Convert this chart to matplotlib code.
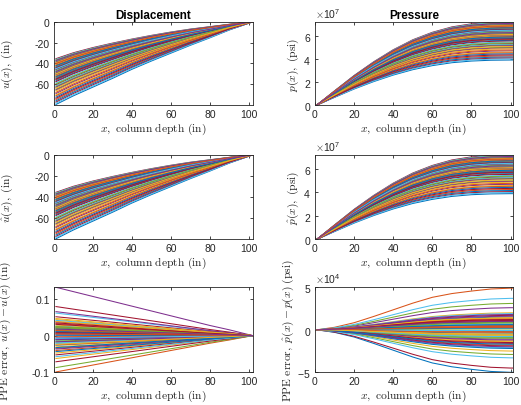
import matplotlib
matplotlib.use("Agg")
import matplotlib.pyplot as plt
import numpy as np
from matplotlib.ticker import ScalarFormatter

# ---------------- data ----------------
depth_u = [1, 10, 20, 30, 40, 50, 60, 70, 80, 90, 100, 102]
# normalised displacement profiles (|u(x)|/|u(1)|) for the top (least) and bottom (largest) curves
u_shape_top = [1.0, 0.84, 0.70, 0.58, 0.47, 0.37, 0.28, 0.20, 0.135, 0.07, 0.013, 0.0]
u_shape_bottom = [1.0, 0.895, 0.79, 0.685, 0.575, 0.475, 0.38, 0.285, 0.195, 0.10, 0.018, 0.0]
# straight-line profile of the displacement error
err_u_shape = [1.0, 0.91, 0.81, 0.71, 0.61, 0.51, 0.41, 0.31, 0.21, 0.12, 0.02, 0.0]

depth_p = [1, 10, 20, 30, 40, 50, 60, 70, 80, 90, 100, 101]
p_shape = [0.0, 0.17, 0.355, 0.52, 0.665, 0.785, 0.875, 0.94, 0.977, 0.995, 1.0, 1.0]
err_p_shape = [0.0, 0.06, 0.17, 0.32, 0.48, 0.64, 0.78, 0.87, 0.93, 0.98, 1.0, 1.0]

# per-curve values, in plotting order
u_top_depth = [-79.5, -55.9, -42.9, -69.0, -50.7, -37.9, -60.6, -45.6, -74.8, -53.5,
               -40.6, -64.8, -48.4, -35.5, -56.8, -43.4, -70.3, -51.3, -38.4, -61.5,
               -46.2, -76.0, -54.1, -41.2, -65.6, -49.0, -36.2, -57.6, -44.0, -71.2,
               -51.8, -39.0, -62.3, -46.8, -77.2, -54.7, -41.8, -66.5, -49.6, -36.8,
               -58.9, -44.5, -72.5, -52.4, -39.5, -63.0, -47.3, -78.3, -55.3, -42.3,
               -67.9, -50.1, -37.3, -59.8, -45.1, -73.6, -53.0, -40.1, -63.9, -47.9]
p_bottom_e7 = [3.90, 5.67, 6.65, 4.69, 6.06, 7.02, 5.32, 6.44, 4.25, 5.85,
               6.82, 5.00, 6.23, 7.20, 5.60, 6.61, 4.59, 6.02, 6.98, 5.25,
               6.40, 4.16, 5.81, 6.77, 4.94, 6.19, 7.15, 5.54, 6.56, 4.52,
               5.98, 6.94, 5.19, 6.35, 4.07, 5.76, 6.73, 4.87, 6.14, 7.10,
               5.45, 6.53, 4.43, 5.93, 6.90, 5.14, 6.32, 3.99, 5.72, 6.69,
               4.77, 6.11, 7.07, 5.38, 6.48, 4.34, 5.89, 6.86, 5.07, 6.27]
err_u_top = [0.012, -0.100, -0.063, 0.133, -0.088, 0.062, 0.080, 0.021, -0.035, 0.004,
             0.066, -0.018, 0.027, -0.072, 0.009, -0.041, 0.044, -0.006, 0.015, -0.027,
             0.052, -0.012, 0.033, -0.048, 0.002, 0.019, -0.022, 0.038, -0.009, 0.024,
             -0.031, 0.006, -0.015, 0.042, -0.053, 0.011, -0.003, 0.029, -0.037, 0.017,
             -0.020, 0.035, 0.001, -0.026, 0.047, -0.011, 0.022, -0.058, 0.008, -0.033,
             0.014, 0.039, -0.017, 0.025, -0.007, 0.031, -0.044, 0.005, -0.024, 0.018]
err_p_bottom_e4 = [-5.0, 4.9, 2.0, 2.6, 3.1, 3.7, -4.5, 1.5, -1.8, -2.5,
                   0.9, -2.9, -3.3, 1.7, -0.4, 1.2, -1.3, 0.3, -0.8, 1.9,
                   -1.6, 0.6, -0.2, 1.4, -1.1, 0.1, -2.1, 1.0, -0.6, 0.4,
                   -1.4, 1.6, -0.9, 0.7, -1.9, 0.2, 1.3, -0.5, -1.2, 0.8,
                   -0.1, 1.1, -2.2, 0.5, -0.7, 1.8, -1.0, 0.0, -1.5, 0.6,
                   -0.3, 1.4, -2.0, 0.9, -0.8, 1.2, -1.7, 0.3, -0.6, 1.0]

colors = ['#0072BD', '#D95319', '#EDB120', '#7E2F8E', '#77AC30', '#4DBEEE', '#A2142F']

# ---------------- style ----------------
plt.rcParams['font.family'] = ['Liberation Sans', 'DejaVu Sans']
plt.rcParams['mathtext.fontset'] = 'cm'
plt.rcParams['axes.unicode_minus'] = False
TXT = '#262626'
TICK_FS = 7.5
LAB_FS = 8.3

fig = plt.figure(figsize=(5.21, 4.06), dpi=100)

W, H = 521.0, 406.0
def axes_px(x0, x1, y0, y1):
    return fig.add_axes([x0 / W, (H - y1) / H, (x1 - x0) / W, (y1 - y0) / H])

rows = [(22.7, 106.0), (155.7, 240.3), (288.3, 373.3)]
axL = [axes_px(54.0, 252.7, r0, r1) for r0, r1 in rows]
axR = [axes_px(315.0, 512.5, r0, r1) for r0, r1 in rows]

du = np.array(depth_u, float)
dp = np.array(depth_p, float)
s_top = np.array(u_shape_top)
s_bot = np.array(u_shape_bottom)
e_u = np.array(err_u_shape)
s_p = np.array(p_shape)
e_p = np.array(err_p_shape)
amin, amax = 35.5, 79.5

LW = 0.75
for i in range(len(u_top_depth)):
    c = colors[i % 7]
    a = -u_top_depth[i]
    w = (a - amin) / (amax - amin)
    u = -a * ((1 - w) * s_top + w * s_bot)
    du_err = err_u_top[i] * e_u
    p = p_bottom_e7[i] * 1e7 * s_p
    dp_err = err_p_bottom_e4[i] * 1e4 * e_p
    axL[0].plot(du, u, color=c, lw=LW)
    axL[1].plot(du, u + du_err, color=c, lw=LW)
    axL[2].plot(du, du_err, color=c, lw=LW)
    axR[0].plot(dp, p, color=c, lw=LW)
    axR[1].plot(dp, p + dp_err, color=c, lw=LW)
    axR[2].plot(dp, dp_err, color=c, lw=LW)

xlab = r'$x\mathrm{,\ column\ depth\ (in)}$'
for ax in axL + axR:
    ax.tick_params(direction='in', length=2.5, width=0.6, top=True, right=True,
                   labelsize=TICK_FS, colors=TXT, pad=3)
    for s in ax.spines.values():
        s.set_linewidth(0.6)
        s.set_color(TXT)
    ax.set_xticks([0, 20, 40, 60, 80, 100])
    ax.set_xlabel(xlab, fontsize=LAB_FS, color=TXT, labelpad=1)

for ax in axL:
    ax.set_xlim(0, 102)
for ax in axR:
    ax.set_xlim(0, 101)

# displacement
for ax in axL[:2]:
    ax.set_ylim(-80, 0)
    ax.set_yticks([-60, -40, -20, 0])
axL[0].set_ylabel(r'$u(x)\mathrm{,\ (in)}$', fontsize=LAB_FS, color=TXT)
axL[1].set_ylabel(r'$\hat{u}(x)\mathrm{,\ (in)}$', fontsize=LAB_FS, color=TXT)
axL[2].set_ylim(-0.101, 0.133)
axL[2].set_yticks([-0.1, 0, 0.1], labels=['-0.1', '0', '0.1'])
axL[2].set_ylabel(r'$\mathrm{PPE\ error,}\ \hat{u}(x)-u(x)\ \mathrm{(in)}$', fontsize=LAB_FS, color=TXT)
for ax in axL[:2]:
    ax.yaxis.set_label_coords(-0.198, 0.5)
axL[2].yaxis.set_label_coords(-0.207, 0.5)

# pressure
for ax in axR[:2]:
    ax.set_ylim(0, 7.22e7)
    ax.set_yticks([0, 2e7, 4e7, 6e7])
axR[2].set_ylim(-5e4, 5e4)
axR[2].set_yticks([-5e4, 0, 5e4])
for ax in axR:
    fmt = ScalarFormatter(useMathText=True)
    fmt.set_powerlimits((0, 0))
    ax.yaxis.set_major_formatter(fmt)
    ax.yaxis.get_offset_text().set_fontsize(TICK_FS)
    ax.yaxis.get_offset_text().set_color(TXT)
axR[0].set_ylabel(r'$p(x)\mathrm{,\ (psi)}$', fontsize=LAB_FS, color=TXT)
axR[1].set_ylabel(r'$\hat{p}(x)\mathrm{,\ (psi)}$', fontsize=LAB_FS, color=TXT)
axR[2].set_ylabel(r'$\mathrm{PPE\ error,}\ \hat{p}(x)-p(x)\ \mathrm{(psi)}$', fontsize=LAB_FS, color=TXT)
for ax in axR[:2]:
    ax.yaxis.set_label_coords(-0.071, 0.5)
axR[2].yaxis.set_label_coords(-0.096, 0.5)

axL[0].set_title('Displacement', fontsize=8.4, fontweight='bold', color='black', pad=3)
axR[0].set_title('Pressure', fontsize=8.4, fontweight='bold', color='black', pad=3)

fig.savefig('out.png', dpi=100)
